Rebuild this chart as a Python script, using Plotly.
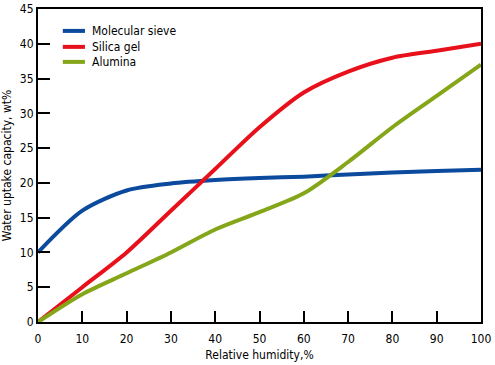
import plotly.graph_objects as go

humidity = [0, 10, 20, 30, 40, 50, 60, 70, 80, 90, 100]
molecular_sieve = [10, 16, 18.9, 19.9, 20.4, 20.7, 20.9, 21.2, 21.5, 21.7, 21.9]
silica_gel = [0, 5, 10, 16, 22, 28, 33, 36, 38, 39, 40]
alumina = [0, 4, 7, 10, 13.3, 15.8, 18.5, 23, 28, 32.5, 37]

x_ticks = [0, 10, 20, 30, 40, 50, 60, 70, 80, 90, 100]
y_ticks = [0, 5, 10, 15, 20, 25, 30, 35, 40, 45]

series_names = ["Molecular sieve", "Silica gel", "Alumina"]
series_colors = ["#0b4a9c", "#e8111b", "#85a619"]

FONT = "DejaVu Sans Condensed"
FS = 12

fig = go.Figure()
for name, ys, col in zip(series_names, [molecular_sieve, silica_gel, alumina], series_colors):
    fig.add_trace(go.Scatter(
        x=humidity, y=ys, name=name, mode="lines", showlegend=False,
        line=dict(color=col, width=4, shape="spline", smoothing=0.8),
    ))

# legend drawn as decoration
legend_y = [0.930, 0.879, 0.831]
for name, col, ly in zip(series_names, series_colors, legend_y):
    fig.add_shape(type="line", xref="paper", yref="paper",
                  x0=0.056, x1=0.106, y0=ly, y1=ly,
                  line=dict(color=col, width=4))
    fig.add_annotation(xref="paper", yref="paper", x=0.118, y=ly,
                       xanchor="left", yanchor="middle", text=name,
                       showarrow=False, font=dict(family=FONT, size=FS, color="black"))

fig.update_layout(
    width=495, height=365,
    margin=dict(l=38, r=14, t=9, b=43),
    paper_bgcolor="white", plot_bgcolor="white",
    font=dict(family=FONT, size=FS, color="black"),
    showlegend=False,
    xaxis=dict(
        range=[0, 100], tickvals=x_ticks, showgrid=False, zeroline=False,
        showline=True, linecolor="black", linewidth=2, mirror=True,
        ticks="inside", ticklen=11, tickwidth=2, tickcolor="black",
        ticklabelstandoff=5,
        title=dict(text="Relative humidity,%", standoff=5, font=dict(family=FONT, size=FS)),
        tickfont=dict(family=FONT, size=FS), automargin=False,
    ),
    yaxis=dict(
        range=[0, 45], tickvals=y_ticks, showgrid=False, zeroline=False,
        showline=True, linecolor="black", linewidth=2, mirror=True,
        ticks="inside", ticklen=12, tickwidth=2, tickcolor="black",
        title=dict(text="Water uptake capacity, wt%", standoff=6, font=dict(family=FONT, size=FS)),
        tickfont=dict(family=FONT, size=FS), automargin=False,
    ),
)

fig.write_html("out.html", config={"displayModeBar": False},
               post_script="document.body.style.margin='0';")
